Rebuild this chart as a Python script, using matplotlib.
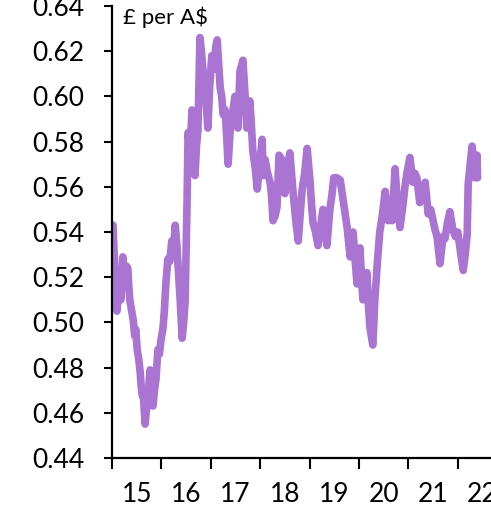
import matplotlib
matplotlib.use("Agg")
import matplotlib.pyplot as plt
from matplotlib.ticker import FixedLocator, NullFormatter, FixedFormatter

years = [2015.02, 2015.04, 2015.06, 2015.08, 2015.10, 2015.12, 2015.14, 2015.16, 2015.18, 2015.20,
         2015.22, 2015.24, 2015.26, 2015.29, 2015.32, 2015.34, 2015.36, 2015.40, 2015.43, 2015.46,
         2015.48, 2015.51, 2015.54, 2015.57, 2015.59, 2015.61, 2015.64, 2015.67, 2015.70, 2015.73,
         2015.77, 2015.80, 2015.83, 2015.86, 2015.89, 2015.93, 2015.96, 2015.99,
         2016.03, 2016.06, 2016.09, 2016.13, 2016.17, 2016.21, 2016.25, 2016.28, 2016.31, 2016.34,
         2016.38, 2016.42, 2016.45, 2016.48, 2016.52,
         2016.54, 2016.56, 2016.58, 2016.62, 2016.65, 2016.68, 2016.71, 2016.74, 2016.78, 2016.81,
         2016.84, 2016.88, 2016.91, 2016.94, 2016.98, 2017.02,
         2017.06, 2017.10, 2017.13, 2017.16, 2017.19, 2017.22, 2017.25, 2017.29, 2017.32, 2017.35,
         2017.39, 2017.43, 2017.49, 2017.52, 2017.55, 2017.59, 2017.65,
         2017.69, 2017.73, 2017.79, 2017.82, 2017.85, 2017.90, 2017.94, 2017.99, 2018.04, 2018.06,
         2018.10, 2018.14, 2018.20, 2018.23, 2018.26,
         2018.30, 2018.34, 2018.38, 2018.44, 2018.47, 2018.50, 2018.55, 2018.60, 2018.63, 2018.66,
         2018.72, 2018.77, 2018.81, 2018.85, 2018.90, 2018.95, 2019.01,
         2019.04, 2019.07, 2019.12, 2019.17, 2019.22, 2019.27, 2019.31, 2019.35, 2019.41, 2019.45,
         2019.49, 2019.55, 2019.62, 2019.68, 2019.72, 2019.76,
         2019.82, 2019.85, 2019.88, 2019.92, 2019.96, 2020.02, 2020.05, 2020.08, 2020.12, 2020.16,
         2020.19, 2020.22, 2020.28, 2020.32, 2020.38,
         2020.42, 2020.47, 2020.53, 2020.59, 2020.63, 2020.67, 2020.73, 2020.78, 2020.83, 2020.89,
         2020.93, 2020.97, 2021.03, 2021.09,
         2021.13, 2021.17, 2021.23, 2021.28, 2021.34, 2021.40, 2021.45, 2021.50, 2021.54, 2021.58,
         2021.64, 2021.70, 2021.74, 2021.79, 2021.84,
         2021.90, 2021.95, 2022.00, 2022.05, 2022.11, 2022.15, 2022.19, 2022.21, 2022.25, 2022.29,
         2022.35, 2022.39, 2022.40]
gbp_per_aud = [0.543, 0.532, 0.523, 0.512, 0.505, 0.510, 0.517, 0.512, 0.510, 0.520,
               0.529, 0.522, 0.519, 0.525, 0.524, 0.516, 0.510, 0.505, 0.501, 0.494,
               0.497, 0.488, 0.484, 0.478, 0.472, 0.468, 0.466, 0.455, 0.462, 0.468,
               0.479, 0.470, 0.463, 0.470, 0.475, 0.488, 0.486, 0.492,
               0.497, 0.505, 0.517, 0.528, 0.527, 0.536, 0.533, 0.543, 0.535, 0.524,
               0.510, 0.493, 0.500, 0.509, 0.554,
               0.584, 0.580, 0.576, 0.594, 0.580, 0.565, 0.578, 0.585, 0.626, 0.620,
               0.612, 0.604, 0.596, 0.586, 0.605, 0.618,
               0.612, 0.622, 0.625, 0.614, 0.604, 0.600, 0.592, 0.594, 0.583, 0.570,
               0.584, 0.591, 0.600, 0.592, 0.586, 0.611, 0.616,
               0.602, 0.586, 0.598, 0.588, 0.576, 0.568, 0.559, 0.570, 0.581, 0.565,
               0.572, 0.567, 0.562, 0.556, 0.545,
               0.547, 0.551, 0.574, 0.572, 0.565, 0.557, 0.568, 0.575, 0.567, 0.559,
               0.545, 0.536, 0.548, 0.559, 0.566, 0.577, 0.562,
               0.552, 0.544, 0.540, 0.534, 0.542, 0.550, 0.542, 0.534, 0.550, 0.556,
               0.564, 0.564, 0.563, 0.554, 0.548, 0.542,
               0.529, 0.536, 0.540, 0.528, 0.517, 0.533, 0.520, 0.510, 0.516, 0.522,
               0.508, 0.498, 0.490, 0.510, 0.529,
               0.540, 0.547, 0.558, 0.545, 0.550, 0.545, 0.568, 0.552, 0.542, 0.552,
               0.560, 0.566, 0.573, 0.562,
               0.566, 0.564, 0.553, 0.558, 0.562, 0.548, 0.550, 0.545, 0.541, 0.538,
               0.526, 0.538, 0.537, 0.544, 0.549,
               0.541, 0.538, 0.540, 0.532, 0.523, 0.530, 0.539, 0.561, 0.570, 0.578,
               0.564, 0.574, 0.564]

year_ticks = [2015, 2016, 2017, 2018, 2019, 2020, 2021, 2022]
year_labels = ["15", "16", "17", "18", "19", "20", "21", "22"]
y_ticks = [0.44, 0.46, 0.48, 0.50, 0.52, 0.54, 0.56, 0.58, 0.60, 0.62, 0.64]
unit_label = "£ per A$"

plt.rcParams['font.family'] = ['Lato', 'DejaVu Sans']
W, H = 491, 525
fig = plt.figure(figsize=(W / 100, H / 100), dpi=100)
ax = fig.add_axes([112 / W, 1 - 458 / H, 1 - 112 / W, (458 - 6) / H])

ax.plot(years, gbp_per_aud, color='#aa74d3', lw=5.5, solid_capstyle='round', solid_joinstyle='round')

ax.set_xlim(2015, 2015 + (W - 112) / 49.4)
ax.set_ylim(0.44, 0.64)

for s in ['top', 'right']:
    ax.spines[s].set_visible(False)
for s in ['left', 'bottom']:
    ax.spines[s].set_linewidth(1.6)
    ax.spines[s].set_color('black')

ax.set_yticks(y_ticks)
ax.set_yticklabels([f"{v:.2f}" for v in y_ticks])
ax.tick_params(axis='y', direction='out', length=6, width=1.5, pad=14, labelsize=19)

ax.xaxis.set_major_locator(FixedLocator(year_ticks))
ax.xaxis.set_major_formatter(NullFormatter())
ax.xaxis.set_minor_locator(FixedLocator([y + 0.5 for y in year_ticks]))
ax.xaxis.set_minor_formatter(FixedFormatter(year_labels))
ax.tick_params(axis='x', which='major', direction='out', length=8, width=1.5)
ax.tick_params(axis='x', which='minor', length=0, pad=17, labelsize=19)

fig.text(123 / W, 1 - 17 / H, unit_label, fontsize=16, va='center', ha='left')

fig.savefig("out.png", dpi=100)
